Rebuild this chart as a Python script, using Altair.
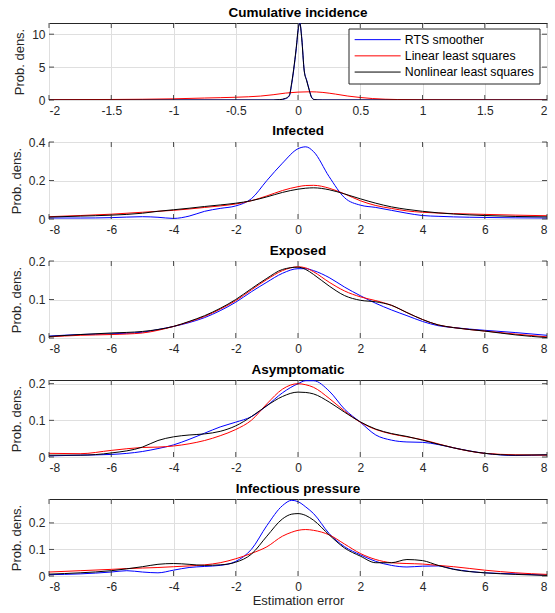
import altair as alt
import pandas as pd

SERIES = ["RTS smoother", "Linear least squares", "Nonlinear least squares"]
COLORS = ["#0000ff", "#ff0000", "#000000"]

# ---- Panel 1: Cumulative incidence ----
ci_x_peak = [-2, -0.2, -0.15, -0.1, -0.07, -0.05, -0.03, -0.01, 0.0, 0.015, 0.03, 0.05,
             0.07, 0.09, 0.11, 0.13, 0.16, 0.2, 2]
ci_blue = [0, 0, 0.03, 0.2, 0.6, 2.5, 5.2, 8.5, 10.5, 11.7, 9.5, 4.5, 3.0, 1.6, 0.4, 0.08, 0.01, 0, 0]
ci_black = [0, 0, 0.05, 0.25, 0.7, 2.7, 5.4, 8.7, 10.6, 11.6, 9.3, 4.4, 2.9, 1.5, 0.35, 0.06, 0.01, 0, 0]
ci_x_red = [-2, -1.5, -1, -0.75, -0.5, -0.3, -0.2, -0.1, 0, 0.1, 0.2, 0.3, 0.4, 0.5, 0.6,
            0.7, 0.8, 1, 1.5, 2]
ci_red = [0.05, 0.08, 0.18, 0.3, 0.42, 0.6, 0.8, 1.05, 1.2, 1.25, 1.15, 0.9, 0.6, 0.38, 0.22,
          0.12, 0.07, 0.04, 0.02, 0.02]

# ---- common grid for panels 2-4 ----
grid_x = [-8, -7, -6, -5, -4.5, -4, -3.5, -3, -2.5, -2, -1.5, -1, -0.5, 0, 0.25, 0.5,
          1, 1.5, 2, 2.5, 3, 3.5, 4, 4.5, 5, 6, 7, 8]

inf_blue = [0.005, 0.005, 0.007, 0.012, 0.009, 0.003, 0.015, 0.04, 0.055, 0.068, 0.105, 0.2,
            0.29, 0.365, 0.375, 0.35, 0.22, 0.11, 0.072, 0.06, 0.045, 0.03, 0.018, 0.014,
            0.011, 0.008, 0.006, 0.005]
inf_red = [0.012, 0.018, 0.025, 0.035, 0.04, 0.045, 0.052, 0.06, 0.068, 0.078, 0.095, 0.12,
           0.148, 0.168, 0.174, 0.175, 0.16, 0.13, 0.095, 0.07, 0.055, 0.042, 0.035, 0.031,
           0.028, 0.024, 0.02, 0.017]
inf_black = [0.01, 0.015, 0.02, 0.03, 0.04, 0.048, 0.056, 0.065, 0.073, 0.082, 0.095, 0.115,
             0.138, 0.155, 0.16, 0.162, 0.152, 0.13, 0.105, 0.082, 0.063, 0.05, 0.04, 0.032,
             0.026, 0.018, 0.013, 0.011]

exp_blue = [0.005, 0.009, 0.011, 0.015, 0.022, 0.03, 0.04, 0.053, 0.071, 0.093, 0.12, 0.145,
            0.168, 0.18, 0.18, 0.175, 0.157, 0.132, 0.11, 0.09, 0.073, 0.058, 0.043, 0.032,
            0.027, 0.02, 0.014, 0.007]
exp_red = [0.003, 0.007, 0.009, 0.013, 0.02, 0.03, 0.042, 0.056, 0.075, 0.097, 0.125, 0.152,
           0.175, 0.185, 0.182, 0.172, 0.145, 0.122, 0.107, 0.097, 0.085, 0.066, 0.048, 0.034,
           0.027, 0.018, 0.01, 0.003]
exp_black = [0.004, 0.009, 0.013, 0.017, 0.022, 0.03, 0.043, 0.058, 0.077, 0.1, 0.128, 0.155,
             0.178, 0.184, 0.178, 0.165, 0.135, 0.11, 0.098, 0.094, 0.085, 0.066, 0.048, 0.034,
             0.027, 0.018, 0.008, 0.001]

asy_blue = [0.003, 0.005, 0.007, 0.015, 0.023, 0.033, 0.048, 0.065, 0.082, 0.095, 0.11, 0.14,
            0.175, 0.2, 0.208, 0.208, 0.18, 0.13, 0.095, 0.06, 0.046, 0.041, 0.04, 0.034,
            0.025, 0.01, 0.004, 0.006]
asy_red = [0.01, 0.009, 0.018, 0.026, 0.027, 0.03, 0.036, 0.045, 0.058, 0.075, 0.1, 0.145,
           0.185, 0.2, 0.197, 0.19, 0.16, 0.125, 0.095, 0.075, 0.063, 0.055, 0.047, 0.036,
           0.025, 0.01, 0.006, 0.005]
asy_black = [0.005, 0.005, 0.011, 0.027, 0.045, 0.055, 0.06, 0.063, 0.07, 0.085, 0.11, 0.14,
             0.165, 0.177, 0.176, 0.172, 0.15, 0.122, 0.096, 0.076, 0.064, 0.056, 0.046, 0.035,
             0.025, 0.01, 0.005, 0.006]

# ---- Panel 5: Infectious pressure ----
ip_x = [-8, -7, -6, -5.5, -5, -4.5, -4, -3.5, -3, -2.5, -2, -1.5, -1, -0.5, -0.2, 0, 0.25,
        0.5, 1, 1.5, 2, 2.5, 3, 3.5, 4, 4.5, 5, 6, 7, 8]
ip_blue = [0.005, 0.008, 0.015, 0.02, 0.015, 0.012, 0.022, 0.032, 0.036, 0.04, 0.055, 0.1,
           0.19, 0.265, 0.285, 0.28, 0.26, 0.235, 0.16, 0.11, 0.08, 0.055, 0.04, 0.034, 0.037,
           0.038, 0.026, 0.012, 0.008, 0.003]
ip_red = [0.015, 0.02, 0.025, 0.028, 0.03, 0.032, 0.035, 0.038, 0.042, 0.05, 0.065, 0.085,
          0.11, 0.15, 0.165, 0.172, 0.175, 0.172, 0.155, 0.12, 0.085, 0.062, 0.05, 0.047,
          0.045, 0.04, 0.035, 0.022, 0.012, 0.006]
ip_black = [0.007, 0.012, 0.02, 0.027, 0.035, 0.044, 0.047, 0.044, 0.04, 0.042, 0.052, 0.082,
            0.15, 0.215, 0.233, 0.235, 0.228, 0.21, 0.155, 0.105, 0.075, 0.05, 0.05, 0.062,
            0.058, 0.04, 0.025, 0.012, 0.006, 0.002]

x_ticks_ci = [-2, -1.5, -1, -0.5, 0, 0.5, 1, 1.5, 2]
x_ticks = [-8, -6, -4, -2, 0, 2, 4, 6, 8]

W, H = 498, 77
AX = "#262626"
FONT = "Liberation Sans"
LABEL_EXPR = "datum.value < 0 ? '-' + format(-datum.value, '~g') : format(datum.value, '~g')"


def long_df(pairs):
    rows = []
    for name, xs, ys in pairs:
        for xv, yv in zip(xs, ys):
            rows.append({"x": xv, "y": yv, "series": name})
    return pd.DataFrame(rows)


def panel(title, df, xdom, ydom, xt, yt, legend=None, xtitle=None, toff=3.5):
    xs = alt.Scale(domain=xdom, nice=False, zero=False)
    ys = alt.Scale(domain=ydom, nice=False, zero=False)
    color = alt.Color("series:N", scale=alt.Scale(domain=SERIES, range=COLORS),
                      legend=legend)
    xaxis = alt.Axis(values=xt, labelExpr=LABEL_EXPR, grid=True, ticks=False, domain=False,
                     labelPadding=5, titlePadding=2.5, title=xtitle if xtitle else None)
    yaxis = alt.Axis(values=yt, labelExpr=LABEL_EXPR, grid=True, ticks=False, domain=False,
                     labelPadding=4, titlePadding=5, title="Prob. dens.")
    layers = []
    for s in SERIES:
        layers.append(
            alt.Chart(df).transform_filter(alt.datum.series == s)
            .mark_line(interpolate="monotone", strokeWidth=1, clip=True)
            .encode(
                x=alt.X("x:Q", scale=xs, axis=xaxis),
                y=alt.Y("y:Q", scale=ys, axis=yaxis),
                color=color,
            )
        )
    xtdf = pd.DataFrame({"x": xt})
    ytdf = pd.DataFrame({"y": yt})
    rule = dict(color=AX, strokeWidth=0.8)
    ticks = [
        alt.Chart(xtdf).mark_rule(**rule).encode(
            x=alt.X("x:Q", scale=xs, axis=xaxis), y=alt.value(H), y2=alt.value(H - 5)),
        alt.Chart(xtdf).mark_rule(**rule).encode(
            x=alt.X("x:Q", scale=xs, axis=xaxis), y=alt.value(0), y2=alt.value(5)),
        alt.Chart(ytdf).mark_rule(**rule).encode(
            y=alt.Y("y:Q", scale=ys, axis=yaxis), x=alt.value(0), x2=alt.value(5)),
        alt.Chart(ytdf).mark_rule(**rule).encode(
            y=alt.Y("y:Q", scale=ys, axis=yaxis), x=alt.value(W), x2=alt.value(W - 5)),
    ]
    return alt.layer(*layers, *ticks).properties(
        width=W, height=H,
        title=alt.Title(title, fontSize=13.5, fontWeight="bold", font=FONT, color="black",
                        offset=toff),
    )


legend = alt.Legend(
    title=None, orient="none", legendX=299.5, legendY=5.5,
    symbolType="M-4.6,0H4.6", symbolSize=100, symbolOffset=18, labelOffset=21,
    symbolStrokeWidth=1, padding=5, rowPadding=3.2,
    strokeColor=AX, fillColor="white", labelFont=FONT, labelFontSize=12.3,
    labelColor="black", labelLimit=300,
)

p1 = panel("Cumulative incidence",
           long_df([(SERIES[0], ci_x_peak, ci_blue), (SERIES[1], ci_x_red, ci_red),
                    (SERIES[2], ci_x_peak, ci_black)]),
           [-2, 2], [0, 11.7], x_ticks_ci, [0, 5, 10], legend=legend, toff=3.5)
p2 = panel("Infected",
           long_df([(SERIES[0], grid_x, inf_blue), (SERIES[1], grid_x, inf_red),
                    (SERIES[2], grid_x, inf_black)]),
           [-8, 8], [0, 0.4], x_ticks, [0, 0.2, 0.4], toff=-1.5)
p3 = panel("Exposed",
           long_df([(SERIES[0], grid_x, exp_blue), (SERIES[1], grid_x, exp_red),
                    (SERIES[2], grid_x, exp_black)]),
           [-8, 8], [0, 0.2], x_ticks, [0, 0.1, 0.2], toff=-2)
p4 = panel("Asymptomatic",
           long_df([(SERIES[0], grid_x, asy_blue), (SERIES[1], grid_x, asy_red),
                    (SERIES[2], grid_x, asy_black)]),
           [-8, 8], [0, 0.21], x_ticks, [0, 0.1, 0.2], toff=1)
p5 = panel("Infectious pressure",
           long_df([(SERIES[0], ip_x, ip_blue), (SERIES[1], ip_x, ip_red),
                    (SERIES[2], ip_x, ip_black)]),
           [-8, 8], [0, 0.29], x_ticks, [0, 0.1, 0.2], xtitle="Estimation error", toff=3.5)

chart = (
    alt.vconcat(p1, p2, p3, p4, p5, spacing=42, bounds="flush")
    .resolve_scale(color="independent", x="independent", y="independent")
    .properties(padding={"left": 9, "top": 5, "right": 0, "bottom": 0})
    .configure_view(stroke=AX, strokeWidth=1)
    .configure_axis(
        labelFont=FONT, labelFontSize=12, labelColor=AX,
        titleFont=FONT, titleFontSize=13, titleFontWeight="normal", titleColor=AX,
        gridColor="#dfdfdf", gridWidth=1,
    )
)

chart.save("out.html", embed_options={"renderer": "svg", "actions": False})
